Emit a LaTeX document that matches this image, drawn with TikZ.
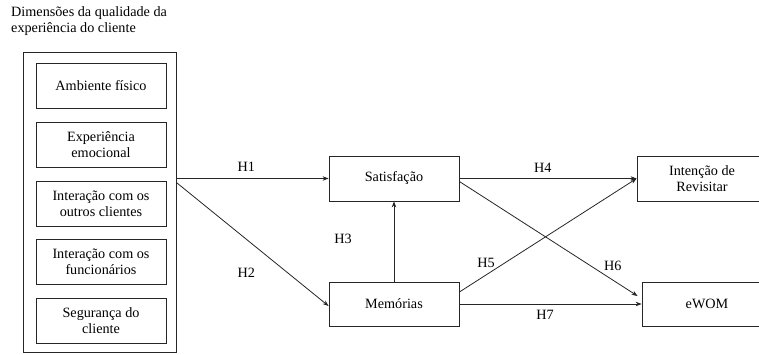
\documentclass[tikz,border=0pt]{standalone}
\usepackage{fontspec}
\setmainfont{Liberation Serif}
\usetikzlibrary{arrows.meta}

\tikzset{
    caixa/.style={draw=black!85, line width=0.8pt, minimum width=130pt, minimum height=45pt, align=center, inner sep=1pt},
    seta/.style={draw=black!85, line width=0.8pt, -{Stealth[length=6pt,width=4.5pt]}},
    hip/.style={inner sep=0pt, font=\fontsize{14.2}{15}\selectfont}
}

\begin{document}
\begin{tikzpicture}[x=1pt, y=-1pt, font=\fontsize{14.2}{16}\selectfont]
    \useasboundingbox (0,0) rectangle (759,354);

    % Titulo
    \node[anchor=north west, align=left, inner sep=0pt] (titulo) at (11,6) {Dimensões da qualidade da\\experiência do cliente};

    % Caixa exterior
    \node[draw=black!85, line width=0.8pt, minimum width=153pt, minimum height=300pt, inner sep=0pt] (dim) at (99.5,202) {};

    % Dimensoes
    \node[caixa] (amb) at (101,86) {Ambiente físico};
    \node[caixa] (emo) at (101,145) {Experiência\\emocional};
    \node[caixa] (cli) at (101,203.5) {Interação com os\\outros clientes};
    \node[caixa] (fun) at (101,261.5) {Interação com os\\funcionários};
    \node[caixa] (seg) at (101,320.5) {Segurança do\\cliente};

    % Construtos
    \node[caixa] (sat) at (394,178.5) {Satisfação};
    \node[caixa, minimum height=44pt] (mem) at (394,304) {Memórias};
    \node[caixa] (int) at (702,178.5) {Intenção de\\Revisitar};
    \node[caixa, minimum height=44pt] (ewom) at (707,304) {eWOM};

    % Hipoteses
    \draw[seta] (dim.east |- sat.west) -- (sat.west) node[hip, pos=0.46, above=7pt]{H1};
    \draw[seta] ([yshift=-4pt]dim.east |- sat.west) -- ([yshift=-2pt]mem.west) node[hip, pos=0.46, yshift=-33pt]{H2};
    \draw[seta] (mem.north) -- (sat.south) node[hip, pos=0.53, left=42pt]{H3};
    \draw[seta] (sat.east) -- (int.west) node[hip, pos=0.47, above=6pt]{H4};
    \draw[seta] ([yshift=12pt]mem.east) -- (int.west) node[hip, pos=0.15, above=7pt]{H5};
    \draw[seta] ([yshift=-3pt]sat.east) -- ([yshift=8pt,xshift=-4pt]ewom.west) node[hip, pos=0.85, above=8pt, xshift=2pt]{H6};
    \draw[seta] (mem.east) -- (ewom.west) node[hip, pos=0.47, below=6pt]{H7};
\end{tikzpicture}
\end{document}
